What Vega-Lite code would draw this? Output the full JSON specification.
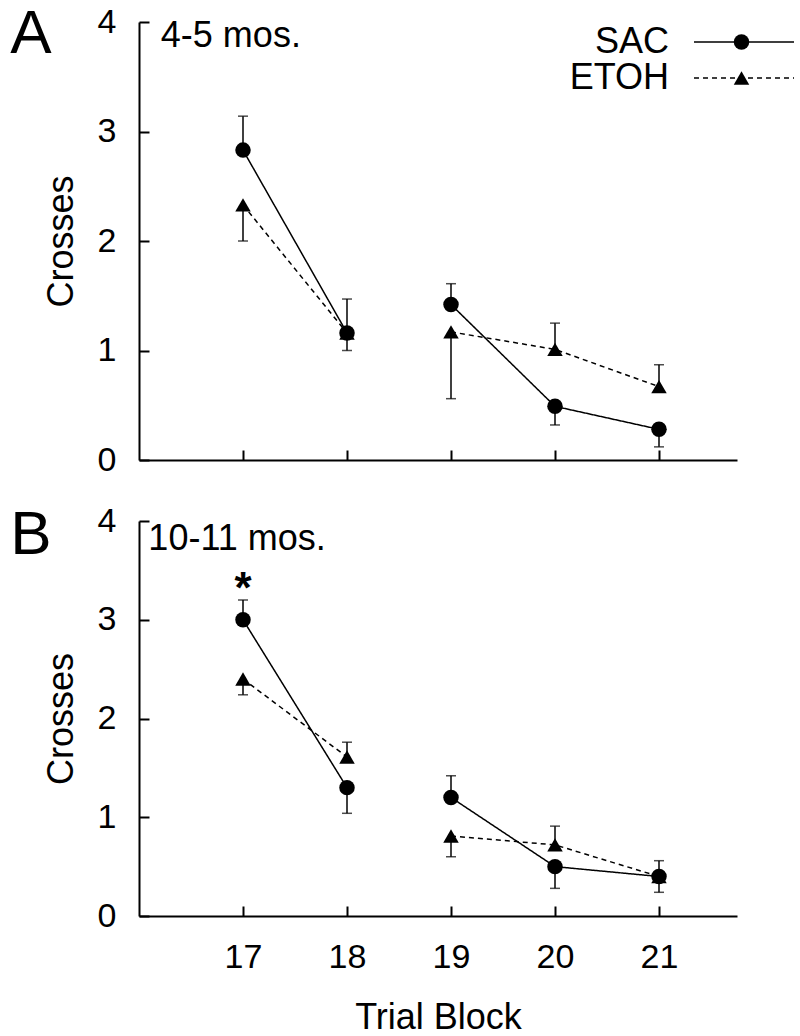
{
  "$schema": "https://vega.github.io/schema/vega-lite/v6.json",
  "background": "white",
  "padding": {"left": 10, "top": 2, "right": 0, "bottom": 0},
  "spacing": 26,
  "resolve": {
    "scale": {"shape": "independent", "strokeDash": "independent"},
    "legend": {"shape": "independent", "strokeDash": "independent"}
  },
  "datasets": {
    "A": [
      {"block": 17, "phase": 1, "group": "SAC", "mean": 2.83, "err": 3.14},
      {"block": 17, "phase": 1, "group": "ETOH", "mean": 2.33, "err": 2.0},
      {"block": 18, "phase": 1, "group": "SAC", "mean": 1.16, "err": 1.47},
      {"block": 18, "phase": 1, "group": "ETOH", "mean": 1.16, "err": 1.0},
      {"block": 19, "phase": 2, "group": "SAC", "mean": 1.42, "err": 1.61},
      {"block": 19, "phase": 2, "group": "ETOH", "mean": 1.17, "err": 0.56},
      {"block": 20, "phase": 2, "group": "SAC", "mean": 0.49, "err": 0.32},
      {"block": 20, "phase": 2, "group": "ETOH", "mean": 1.01, "err": 1.25},
      {"block": 21, "phase": 2, "group": "SAC", "mean": 0.28, "err": 0.12},
      {"block": 21, "phase": 2, "group": "ETOH", "mean": 0.67, "err": 0.87}
    ],
    "B": [
      {"block": 17, "phase": 1, "group": "SAC", "mean": 3.0, "err": 3.2},
      {"block": 17, "phase": 1, "group": "ETOH", "mean": 2.4, "err": 2.24},
      {"block": 18, "phase": 1, "group": "SAC", "mean": 1.3, "err": 1.04},
      {"block": 18, "phase": 1, "group": "ETOH", "mean": 1.61, "err": 1.76},
      {"block": 19, "phase": 2, "group": "SAC", "mean": 1.2, "err": 1.42},
      {"block": 19, "phase": 2, "group": "ETOH", "mean": 0.81, "err": 0.6},
      {"block": 20, "phase": 2, "group": "SAC", "mean": 0.5, "err": 0.28},
      {"block": 20, "phase": 2, "group": "ETOH", "mean": 0.72, "err": 0.91},
      {"block": 21, "phase": 2, "group": "SAC", "mean": 0.4, "err": 0.24},
      {"block": 21, "phase": 2, "group": "ETOH", "mean": 0.4, "err": 0.56}
    ]
  },
  "vconcat": [
    {
      "width": 598,
      "height": 438,
      "data": {"name": "A"},
      "layer": [
        {
          "mark": {"type": "rule", "color": "black", "strokeWidth": 1.5},
          "encoding": {
            "x": {"field": "block", "type": "quantitative", "scale": {"domain": [16, 21.75], "nice": false, "zero": false},
                  "axis": {"values": [17, 18, 19, 20, 21], "labels": false, "title": null}},
            "y": {"field": "mean", "type": "quantitative", "scale": {"domain": [0, 4], "nice": false},
                  "axis": {"values": [0, 1, 2, 3, 4], "format": "d", "title": "Crosses", "labelPadding": 33, "titlePadding": 17}},
            "y2": {"field": "err"}
          }
        },
        {
          "mark": {"type": "tick", "orient": "horizontal", "color": "black", "size": 10, "thickness": 1.5},
          "encoding": {
            "x": {"field": "block", "type": "quantitative"},
            "y": {"field": "err", "type": "quantitative"}
          }
        },
        {
          "mark": {"type": "line", "color": "black", "strokeWidth": 1.5},
          "encoding": {
            "x": {"field": "block", "type": "quantitative"},
            "y": {"field": "mean", "type": "quantitative"},
            "detail": {"field": "phase", "type": "nominal"},
            "strokeDash": {"field": "group", "type": "nominal", "scale": {"domain": ["ETOH", "SAC"], "range": [[5, 4], [1, 0]]},
              "legend": {
                "orient": "none", "legendX": 587, "legendY": 2, "title": null, "padding": 0, "values": ["SAC", "ETOH"],
                "symbolType": "M-5,0H5", "symbolSize": 400, "symbolStrokeWidth": 1.5, "symbolStrokeColor": "black",
                "labelFontSize": 36, "labelFont": "Liberation Sans", "labelColor": "black", "labelLimit": 300,
                "labelAlign": "right", "labelOffset": -93, "rowPadding": 0
              }}
          }
        },
        {
          "mark": {"type": "point", "filled": true, "opacity": 1, "color": "black"},
          "encoding": {
            "x": {"field": "block", "type": "quantitative"},
            "y": {"field": "mean", "type": "quantitative"},
            "shape": {"field": "group", "type": "nominal", "scale": {"domain": ["SAC", "ETOH"], "range": ["circle", "triangle-up"]},
              "legend": {
                "orient": "none", "legendX": 584.5, "legendY": 2, "title": null, "padding": 0,
                "symbolSize": 240, "symbolFillColor": "black", "symbolStrokeColor": "black", "symbolOpacity": 1,
                "labelFontSize": 36, "labelFont": "Liberation Sans", "labelOpacity": 0, "labelLimit": 20, "rowPadding": 0
              }},
            "size": {"value": 240}
          }
        },
        {
          "data": {"values": [{"label": "4-5 mos."}]},
          "mark": {"type": "text", "align": "left", "baseline": "middle", "fontSize": 36, "font": "Liberation Sans", "color": "black"},
          "encoding": {
            "x": {"datum": 16.21, "type": "quantitative"},
            "y": {"datum": 3.87, "type": "quantitative"},
            "text": {"field": "label"}
          }
        },
        {
          "data": {"values": [{"label": "A"}]},
          "mark": {"type": "text", "align": "left", "baseline": "alphabetic", "fontSize": 62, "font": "Liberation Sans", "color": "black"},
          "encoding": {
            "x": {"datum": 14.763, "type": "quantitative"},
            "y": {"datum": 3.72, "type": "quantitative"},
            "text": {"field": "label"}
          }
        }
      ]
    },
    {
      "width": 598,
      "height": 395,
      "data": {"name": "B"},
      "layer": [
        {
          "mark": {"type": "rule", "color": "black", "strokeWidth": 1.5},
          "encoding": {
            "x": {"field": "block", "type": "quantitative", "scale": {"domain": [16, 21.75], "nice": false, "zero": false},
                  "axis": {"values": [17, 18, 19, 20, 21], "format": "d", "title": "Trial Block", "labelPadding": 34, "titlePadding": 26}},
            "y": {"field": "mean", "type": "quantitative", "scale": {"domain": [0, 4], "nice": false},
                  "axis": {"values": [0, 1, 2, 3, 4], "format": "d", "title": "Crosses", "labelPadding": 33, "titlePadding": 17}},
            "y2": {"field": "err"}
          }
        },
        {
          "mark": {"type": "tick", "orient": "horizontal", "color": "black", "size": 10, "thickness": 1.5},
          "encoding": {
            "x": {"field": "block", "type": "quantitative"},
            "y": {"field": "err", "type": "quantitative"}
          }
        },
        {
          "mark": {"type": "line", "color": "black", "strokeWidth": 1.5},
          "encoding": {
            "x": {"field": "block", "type": "quantitative"},
            "y": {"field": "mean", "type": "quantitative"},
            "detail": {"field": "phase", "type": "nominal"},
            "strokeDash": {"field": "group", "type": "nominal", "scale": {"domain": ["SAC", "ETOH"], "range": [[1, 0], [5, 4]]}, "legend": null}
          }
        },
        {
          "mark": {"type": "point", "filled": true, "opacity": 1, "color": "black"},
          "encoding": {
            "x": {"field": "block", "type": "quantitative"},
            "y": {"field": "mean", "type": "quantitative"},
            "shape": {"field": "group", "type": "nominal", "scale": {"domain": ["SAC", "ETOH"], "range": ["circle", "triangle-up"]}, "legend": null},
            "size": {"value": 240}
          }
        },
        {
          "data": {"values": [{"label": "10-11 mos."}]},
          "mark": {"type": "text", "align": "left", "baseline": "middle", "fontSize": 36, "font": "Liberation Sans", "color": "black"},
          "encoding": {
            "x": {"datum": 16.09, "type": "quantitative"},
            "y": {"datum": 3.82, "type": "quantitative"},
            "text": {"field": "label"}
          }
        },
        {
          "data": {"values": [{"label": "*"}]},
          "mark": {"type": "text", "align": "center", "baseline": "middle", "fontSize": 44, "font": "Liberation Sans", "fontWeight": "bold", "color": "black"},
          "encoding": {
            "x": {"datum": 17, "type": "quantitative"},
            "y": {"datum": 3.3, "type": "quantitative"},
            "text": {"field": "label"}
          }
        },
        {
          "data": {"values": [{"label": "B"}]},
          "mark": {"type": "text", "align": "left", "baseline": "alphabetic", "fontSize": 62, "font": "Liberation Sans", "color": "black"},
          "encoding": {
            "x": {"datum": 14.763, "type": "quantitative"},
            "y": {"datum": 3.666, "type": "quantitative"},
            "text": {"field": "label"}
          }
        }
      ]
    }
  ],
  "config": {
    "view": {"stroke": null},
    "font": "Liberation Sans",
    "axis": {
      "grid": false, "domainColor": "black", "domainWidth": 2, "tickColor": "black", "tickWidth": 2, "tickSize": -10,
      "labelFont": "Liberation Sans", "labelFontSize": 34, "labelColor": "black",
      "titleFont": "Liberation Sans", "titleFontSize": 36, "titleFontWeight": "normal", "titleColor": "black"
    }
  }
}
